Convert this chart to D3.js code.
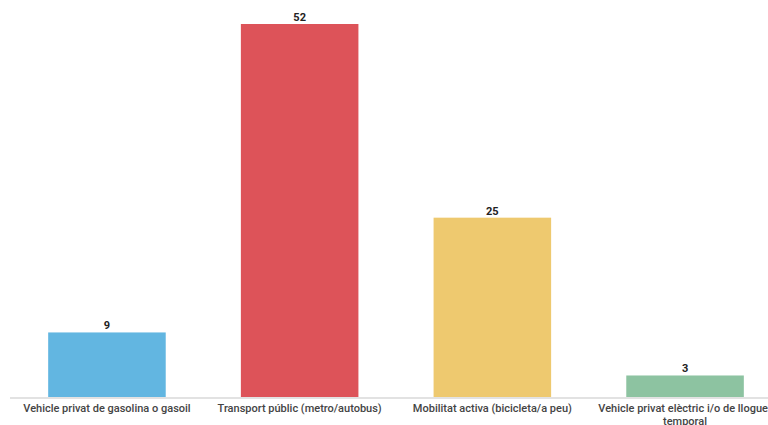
<!DOCTYPE html>
<html><head><meta charset="utf-8">
<script src="https://cdn.jsdelivr.net/npm/d3@7"></script>
<style>
html,body{margin:0;padding:0;background:#fff;overflow:hidden}
svg{display:block;font-family:Roboto,"Noto Sans",sans-serif}
</style></head>
<body><svg id="c" width="768" height="425"></svg>
<script>
const categories = ["Vehicle privat de gasolina o gasoil","Transport públic (metro/autobus)","Mobilitat activa (bicicleta/a peu)","Vehicle privat elèctric i/o de lloguer temporal"];
const values = [9,52,25,3];
const colors = ["#62b6e1","#dd5359","#eec96f","#8dc3a1"];

const svg = d3.select("#c");
const baseY = 397;
const x = d3.scaleBand().domain(categories).range([10.6, 781.4]).paddingInner(0.39).paddingOuter(0.195);
const y = d3.scaleLinear().domain([0,52]).range([baseY, 24]);

svg.append("line").attr("x1",10).attr("x2",768).attr("y1",baseY+1).attr("y2",baseY+1)
  .attr("stroke","#d8d8d8").attr("stroke-width",1.5);

svg.selectAll("rect.bar").data(values).join("rect").attr("class","bar")
  .attr("x",(d,i)=>x(categories[i])).attr("width",x.bandwidth())
  .attr("y",d=>y(d)).attr("height",d=>baseY-y(d)).attr("fill",(d,i)=>colors[i]);

svg.selectAll("text.val").data(values).join("text").attr("class","val")
  .attr("x",(d,i)=>x(categories[i])+x.bandwidth()/2).attr("y",d=>y(d)-3)
  .attr("text-anchor","middle").attr("font-size",11).attr("font-weight","bold").attr("fill","#222")
  .text(d=>d);

const xAxis = d3.axisBottom(x).tickSize(0).tickPadding(0);
const ax = svg.append("g").attr("transform",`translate(0,${baseY})`).call(xAxis);
ax.select(".domain").remove();
ax.selectAll("text").attr("font-size",11).attr("font-weight",500).attr("fill","#444").attr("font-family","Roboto,sans-serif")
  .attr("dy",null).attr("y",15)
  .each(function(){
    const t = d3.select(this); const words = t.text().split(" ");
    t.text(null); let line=[]; let ln=0;
    let ts = t.append("tspan").attr("x",0).attr("y",15);
    for(const w of words){
      line.push(w); ts.text(line.join(" "));
      if(ts.node().getComputedTextLength()>185 && line.length>1){
        line.pop(); ts.text(line.join(" ")); line=[w]; ln++;
        ts = t.append("tspan").attr("x",0).attr("y",15+ln*13).text(w);
      }
    }
  });
</script></body></html>
